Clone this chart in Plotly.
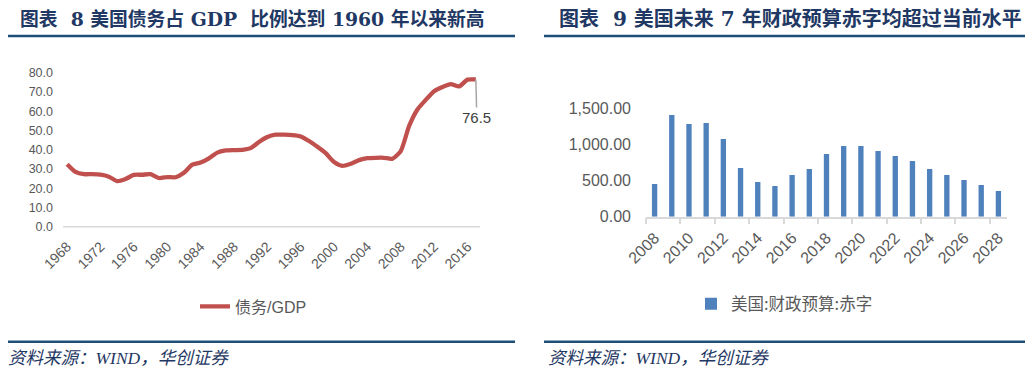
import plotly.graph_objects as go

W, H = 1033, 383
OFF = 8  # page body margin offset

# ---- data ----
debt_years = list(range(1968, 2018))
debt_gdp = [32.5, 28.5, 27.3, 27.3, 27.0, 26.0, 23.7, 24.8, 26.9, 27.0,
            27.3, 25.3, 25.8, 25.7, 28.0, 32.2, 33.3, 35.5, 38.5, 39.6,
            39.8, 39.9, 40.8, 44.0, 46.6, 47.8, 47.8, 47.6, 46.9, 44.5,
            41.5, 38.2, 33.6, 31.6, 32.7, 34.6, 35.6, 35.8, 35.8, 35.3,
            39.3, 52.3, 60.9, 65.9, 70.4, 72.6, 74.1, 72.9, 76.4, 76.5]
debt_ticks = list(range(1968, 2017, 4))

deficit_years = list(range(2008, 2029))
deficit = [452, 1408, 1283, 1297, 1075, 674, 480, 425, 577, 660,
           868, 978, 978, 909, 840, 771, 660, 577, 508, 438, 355]
deficit_ticks = list(range(2008, 2029, 2))

NB = "\u00a0"
title_left = "图表" + NB * 2 + "8" + NB + "美国债务占" + NB + "GDP" + NB * 2 + "比例达到" + NB + "1960" + NB + "年以来新高"
title_right = "图表" + NB * 2 + "9" + NB + "美国未来" + NB + "7" + NB + "年财政预算赤字均超过当前水平"
source_text = "资料来源：WIND，华创证券"
last_label = "76.5"


def px(x):
    return (x - OFF) / W


def py(y):
    return (H - (y - OFF)) / H


NAVY = "#1f3864"
RULE = "#1f4e79"
GRAY = "#595959"
CJK = "Noto Sans CJK SC"
TSERIF = "DejaVu Serif, Noto Sans CJK SC"
SERIF = "Liberation Serif, Noto Sans CJK SC"
SANS = "Liberation Sans, Noto Sans CJK SC"

fig = go.Figure()

fig.add_trace(go.Scatter(
    x=debt_years, y=debt_gdp, mode="lines", name="债务/GDP",
    line=dict(color="#c0504d", width=4.3, shape="spline", smoothing=0.6),
    xaxis="x", yaxis="y", legend="legend", hoverinfo="x+y"))

fig.add_trace(go.Bar(
    x=deficit_years, y=deficit, name="美国:财政预算:赤字",
    marker=dict(color="#4f81bd", line=dict(width=0)), width=0.31,
    xaxis="x2", yaxis="y2", legend="legend2"))

ytop_r = 216.7 - 108.4 * 1600 / 1500

fig.update_layout(
    width=W, height=H, margin=dict(l=0, r=0, t=0, b=0, pad=0, autoexpand=False),
    paper_bgcolor="white", plot_bgcolor="white",
    font=dict(family=CJK, color=GRAY),
    xaxis=dict(domain=[px(63), px(480)], range=[1967.5, 2017.5],
               tickmode="array", tickvals=debt_ticks, tickangle=-45,
               tickfont=dict(size=14, color=GRAY, family=SANS),
               ticklabelstandoff=8,
               showgrid=False, zeroline=False, showline=False, ticks="",
               automargin=False, anchor="y"),
    yaxis=dict(domain=[py(226.7), py(72.7)], range=[0, 80], dtick=10,
               tickformat=".1f", showgrid=False, zeroline=False,
               showline=False, ticks="", automargin=False,
               ticklabelstandoff=9,
               tickfont=dict(size=12.5, color=GRAY, family=SANS),
               anchor="x"),
    xaxis2=dict(domain=[px(646), px(1007)], range=[2007.5, 2028.5],
                tickmode="array", tickvals=deficit_ticks, tickangle=-45,
                tickfont=dict(size=16, color=GRAY, family=SANS),
                ticklabelstandoff=4,
                showgrid=False, zeroline=False, showline=True,
                linecolor="#d9d9d9", linewidth=1.5, ticks="",
                automargin=False,
                minor=dict(tickmode="array",
                           tickvals=[y - 0.5 for y in deficit_ticks[:-1]] + [2027.5],
                           ticks="outside", ticklen=6, tickcolor="#d9d9d9",
                           tickwidth=1.5, showgrid=False),
                anchor="y2"),
    yaxis2=dict(domain=[py(216.7), py(ytop_r)], range=[0, 1600],
                tickmode="array", tickvals=[0, 500, 1000, 1500],
                tickformat=",.2f", showgrid=False, zeroline=False,
                showline=False, ticks="", automargin=False,
                ticklabelstandoff=14,
                tickfont=dict(size=16, color=GRAY, family=SANS),
                anchor="x2"),
    legend=dict(x=px(195), y=py(306.5), xanchor="left", yanchor="middle",
                orientation="h", bgcolor="rgba(0,0,0,0)",
                font=dict(size=16, color=GRAY, family=SANS)),
    legend2=dict(x=px(691), y=py(304), xanchor="left", yanchor="middle",
                 orientation="h", bgcolor="rgba(0,0,0,0)",
                 itemwidth=30,
                 font=dict(size=16.5, color=GRAY, family=CJK)),
    showlegend=True,
)

shapes = [
    dict(type="line", xref="paper", yref="paper", x0=px(63), x1=px(480),
         y0=py(226.7), y1=py(226.7), line=dict(color="#d9d9d9", width=1.5)),
    dict(type="line", xref="paper", yref="paper", x0=px(5), x1=px(515),
         y0=py(36), y1=py(36), line=dict(color=RULE, width=2.5)),
    dict(type="line", xref="paper", yref="paper", x0=px(544), x1=1,
         y0=py(36), y1=py(36), line=dict(color=RULE, width=2.5)),
    dict(type="line", xref="paper", yref="paper", x0=px(5), x1=px(515),
         y0=py(341.7), y1=py(341.7), line=dict(color=RULE, width=2.5)),
    dict(type="line", xref="paper", yref="paper", x0=px(544), x1=1,
         y0=py(341.7), y1=py(341.7), line=dict(color=RULE, width=2.5)),
]
fig.update_layout(shapes=shapes)

annotations = [
    dict(text="<b>" + title_left + "</b>", xref="paper", yref="paper",
         x=px(18), y=py(19), xanchor="left", yanchor="middle", showarrow=False,
         font=dict(size=18.8, color=NAVY, family=TSERIF)),
    dict(text="<b>" + title_right + "</b>", xref="paper", yref="paper",
         x=px(557), y=py(19), xanchor="left", yanchor="middle", showarrow=False,
         font=dict(size=20, color=NAVY, family=TSERIF)),
    dict(text="<i>" + source_text + "</i>", xref="paper", yref="paper",
         x=px(6), y=py(358), xanchor="left", yanchor="middle", showarrow=False,
         font=dict(size=17.5, color=NAVY, family=SERIF)),
    dict(text="<i>" + source_text + "</i>", xref="paper", yref="paper",
         x=px(546), y=py(358), xanchor="left", yanchor="middle", showarrow=False,
         font=dict(size=17.5, color=NAVY, family=SERIF)),
    dict(text=last_label, xref="x", yref="y", x=debt_years[-1], y=debt_gdp[-1],
         showarrow=True, arrowhead=0, arrowwidth=1.5, arrowcolor="#a6a6a6",
         ax=1, ay=38, font=dict(size=15, color="#404040", family="Liberation Sans")),
]
fig.update_layout(annotations=annotations)

fig.write_html("out.html")
